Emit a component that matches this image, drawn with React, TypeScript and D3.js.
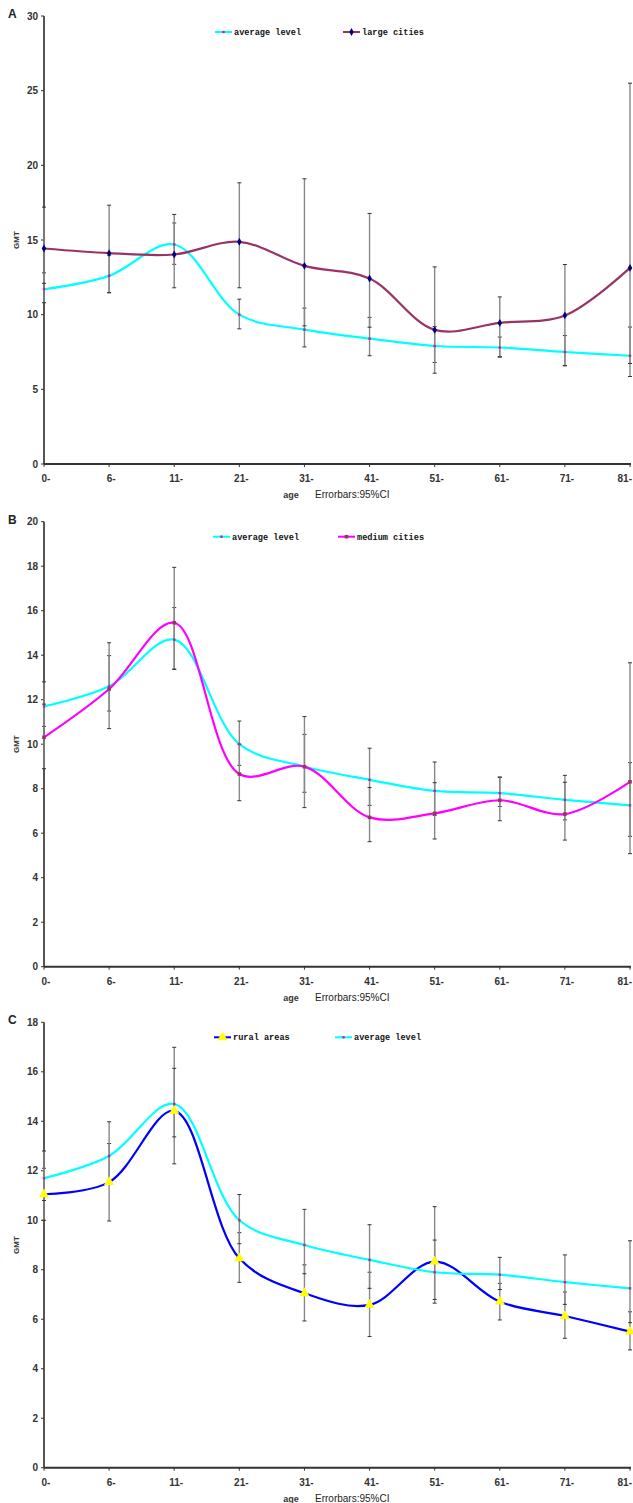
import React, { useRef, useEffect } from 'react';
import * as d3 from 'd3';

const ages = ['0-', '6-', '11-', '21-', '31-', '41-', '51-', '61-', '71-', '81-'];

// average level (shared by all three panels)
const averageLevel = [11.7, 12.6, 14.7, 10.0, 9.0, 8.4, 7.9, 7.8, 7.5, 7.25];
const averageLow = [10.8, 11.49, 13.37, 9.05, 7.84, 7.25, 6.8, 7.2, 6.6, 5.86];
const averageHigh = [12.8, 13.98, 16.14, 11.04, 10.44, 9.82, 9.2, 8.5, 8.6, 9.17];

const largeCities = [14.43, 14.12, 14.03, 14.88, 13.27, 12.42, 8.98, 9.45, 9.95, 13.13];
const largeLow = [12.1, 11.46, 11.8, 11.8, 9.25, 9.16, 6.08, 7.15, 6.57, 6.73];
const largeHigh = [17.2, 17.33, 16.71, 18.83, 19.1, 16.78, 13.2, 11.19, 13.36, 25.5];

const mediumCities = [10.31, 12.48, 15.46, 8.66, 8.99, 6.71, 6.89, 7.48, 6.86, 8.31];
const mediumLow = [8.9, 10.7, 13.37, 7.46, 7.15, 5.62, 5.74, 6.56, 5.69, 5.08];
const mediumHigh = [11.8, 14.56, 17.95, 10.0, 11.24, 8.05, 8.27, 8.53, 8.29, 13.66];

const ruralAreas = [11.05, 11.54, 14.42, 8.46, 7.05, 6.58, 8.33, 6.71, 6.13, 5.5];
const ruralLow = [10.0, 9.97, 12.28, 7.49, 5.93, 5.3, 6.65, 5.97, 5.23, 4.76];
const ruralHigh = [12.1, 13.1, 16.99, 9.5, 8.2, 7.9, 10.55, 7.45, 7.1, 6.3];

type Series = {
  name: string;
  values: number[];
  low: number[];
  high: number[];
  line: string;
  marker: 'diamond' | 'dot' | 'square' | 'triangle';
  markerColor: string;
};

const avgSeries: Series = {
  name: 'average level', values: averageLevel, low: averageLow, high: averageHigh,
  line: '#00ffff', marker: 'dot', markerColor: '#b03090',
};

const panels = [
  {
    label: 'A', top: 16, bottom: 464, yMax: 30, step: 5,
    series: [avgSeries, {
      name: 'large cities', values: largeCities, low: largeLow, high: largeHigh,
      line: '#993366', marker: 'diamond', markerColor: '#000080',
    } as Series],
    legendX: [215, 343], legendY: 32,
  },
  {
    label: 'B', top: 521.7, bottom: 966.7, yMax: 20, step: 2,
    series: [avgSeries, {
      name: 'medium cities', values: mediumCities, low: mediumLow, high: mediumHigh,
      line: '#ff00ff', marker: 'square', markerColor: '#993366',
    } as Series],
    legendX: [213, 338], legendY: 536.7,
  },
  {
    label: 'C', top: 1022.3, bottom: 1467.7, yMax: 18, step: 2,
    series: [{
      name: 'rural areas', values: ruralAreas, low: ruralLow, high: ruralHigh,
      line: '#0000ff', marker: 'triangle', markerColor: '#ffff00',
    } as Series, avgSeries],
    legendX: [214, 335], legendY: 1037.3,
  },
];

const W = 633;
const H = 1503;

function drawMarker(g: any, kind: string, color: string, x: number, y: number) {
  if (kind === 'diamond') {
    g.append('path').attr('d', d3.symbol(d3.symbolDiamond, 18)()).attr('transform', `translate(${x},${y})`)
      .attr('fill', color);
  } else if (kind === 'square') {
    g.append('rect').attr('x', x - 1.8).attr('y', y - 1.8).attr('width', 3.6).attr('height', 3.6).attr('fill', color);
  } else if (kind === 'triangle') {
    g.append('path').attr('d', d3.symbol(d3.symbolTriangle, 45)()).attr('transform', `translate(${x},${y})`)
      .attr('fill', color);
  } else {
    g.append('rect').attr('x', x - 1.2).attr('y', y - 1.2).attr('width', 2.4).attr('height', 2.4).attr('fill', color);
  }
}

const App = () => {
  const svgRef = useRef<SVGSVGElement>(null);

  useEffect(() => {
    if (!svgRef.current) return;
    const svg = d3.select(svgRef.current);
    svg.selectAll('*').remove();

    const x = d3.scalePoint().domain(ages).range([44, 630]);

    panels.forEach(p => {
      const y = d3.scaleLinear().domain([0, p.yMax]).range([p.bottom, p.top]);
      const g = svg.append('g');

      // panel letter
      g.append('text').attr('x', 8).attr('y', p.top + 2).attr('font-family', 'Liberation Sans, Arial')
        .attr('font-weight', 'bold').attr('font-size', 12).attr('fill', '#222').text(p.label);

      // y axis
      const yTicks = d3.range(0, p.yMax + 0.001, p.step);
      g.append('line').attr('x1', 44).attr('x2', 44).attr('y1', y(p.yMax)).attr('y2', y(0))
        .attr('stroke', '#555').attr('stroke-width', 2);
      yTicks.forEach(t => {
        g.append('line').attr('x1', 41).attr('x2', 44).attr('y1', y(t)).attr('y2', y(t))
          .attr('stroke', '#333').attr('stroke-width', 1);
        g.append('text').attr('x', 38).attr('y', y(t) + 3.5).attr('text-anchor', 'end')
          .attr('font-family', 'Liberation Sans, Arial').attr('font-weight', 'bold').attr('font-size', 10)
          .attr('fill', '#333').text(t);
      });
      g.append('text').attr('transform', `translate(19,${(p.top + p.bottom) / 2}) rotate(-90)`)
        .attr('text-anchor', 'middle').attr('font-family', 'Liberation Sans, Arial').attr('font-weight', 'bold')
        .attr('font-size', 8).attr('fill', '#333').text('GMT');

      // x axis
      g.append('line').attr('x1', 44).attr('x2', 631).attr('y1', y(0)).attr('y2', y(0))
        .attr('stroke', '#333').attr('stroke-width', 2);
      ages.forEach((a, i) => {
        const last = i === ages.length - 1;
        g.append('line').attr('x1', x(a)).attr('x2', x(a)).attr('y1', y(0)).attr('y2', y(0) + 3)
          .attr('stroke', '#333').attr('stroke-width', 1);
        g.append('text').attr('x', last ? 632 : x(a)! + 2).attr('y', y(0) + 18)
          .attr('text-anchor', last ? 'end' : 'middle')
          .attr('font-family', 'Liberation Sans, Arial').attr('font-weight', 'bold').attr('font-size', 10)
          .attr('fill', '#333').text(a);
      });
      g.append('text').attr('x', 291).attr('y', y(0) + 34).attr('text-anchor', 'middle')
        .attr('font-family', 'Liberation Sans, Arial').attr('font-weight', 'bold').attr('font-size', 9)
        .attr('fill', '#333').text('age');
      g.append('text').attr('x', 315).attr('y', y(0) + 34)
        .attr('font-family', 'Liberation Sans, Arial').attr('font-size', 10)
        .attr('fill', '#222').text('Errorbars:95%CI');

      // lines
      const line = d3.line<number>()
        .x((_, i) => x(ages[i])!)
        .y(d => y(d))
        .curve(d3.curveCatmullRom.alpha(0.5));
      p.series.forEach(s => {
        g.append('path').attr('d', line(s.values)).attr('fill', 'none')
          .attr('stroke', s.line).attr('stroke-width', 2.2);
      });

      // error bars
      p.series.forEach(s => {
        ages.forEach((a, i) => {
          const cx = x(a)!;
          g.append('line').attr('x1', cx).attr('x2', cx).attr('y1', y(s.low[i])).attr('y2', y(s.high[i]))
            .attr('stroke', '#888').attr('stroke-width', 1.4);
          [s.low[i], s.high[i]].forEach(v => {
            g.append('line').attr('x1', cx - 2).attr('x2', cx + 2).attr('y1', y(v)).attr('y2', y(v))
              .attr('stroke', '#333').attr('stroke-width', 1);
          });
        });
      });

      // markers
      p.series.forEach(s => {
        s.values.forEach((v, i) => drawMarker(g, s.marker, s.markerColor, x(ages[i])!, y(v)));
      });

      // legend
      p.series.forEach((s, k) => {
        const lx = p.legendX[k];
        g.append('line').attr('x1', lx).attr('x2', lx + 17).attr('y1', p.legendY).attr('y2', p.legendY)
          .attr('stroke', s.line).attr('stroke-width', 2);
        drawMarker(g, s.marker, s.markerColor, lx + 8.5, p.legendY);
        g.append('text').attr('x', lx + 19).attr('y', p.legendY + 3)
          .attr('font-family', 'Liberation Mono, DejaVu Sans Mono, monospace').attr('font-weight', 'bold')
          .attr('font-size', 8.6).attr('fill', '#111').text(s.name);
      });
    });
  }, []);

  return (
    <svg ref={svgRef} width={W} height={H}
      style={{ position: 'absolute', left: 0, top: 0, background: '#fff' }} />
  );
};

export default App;
